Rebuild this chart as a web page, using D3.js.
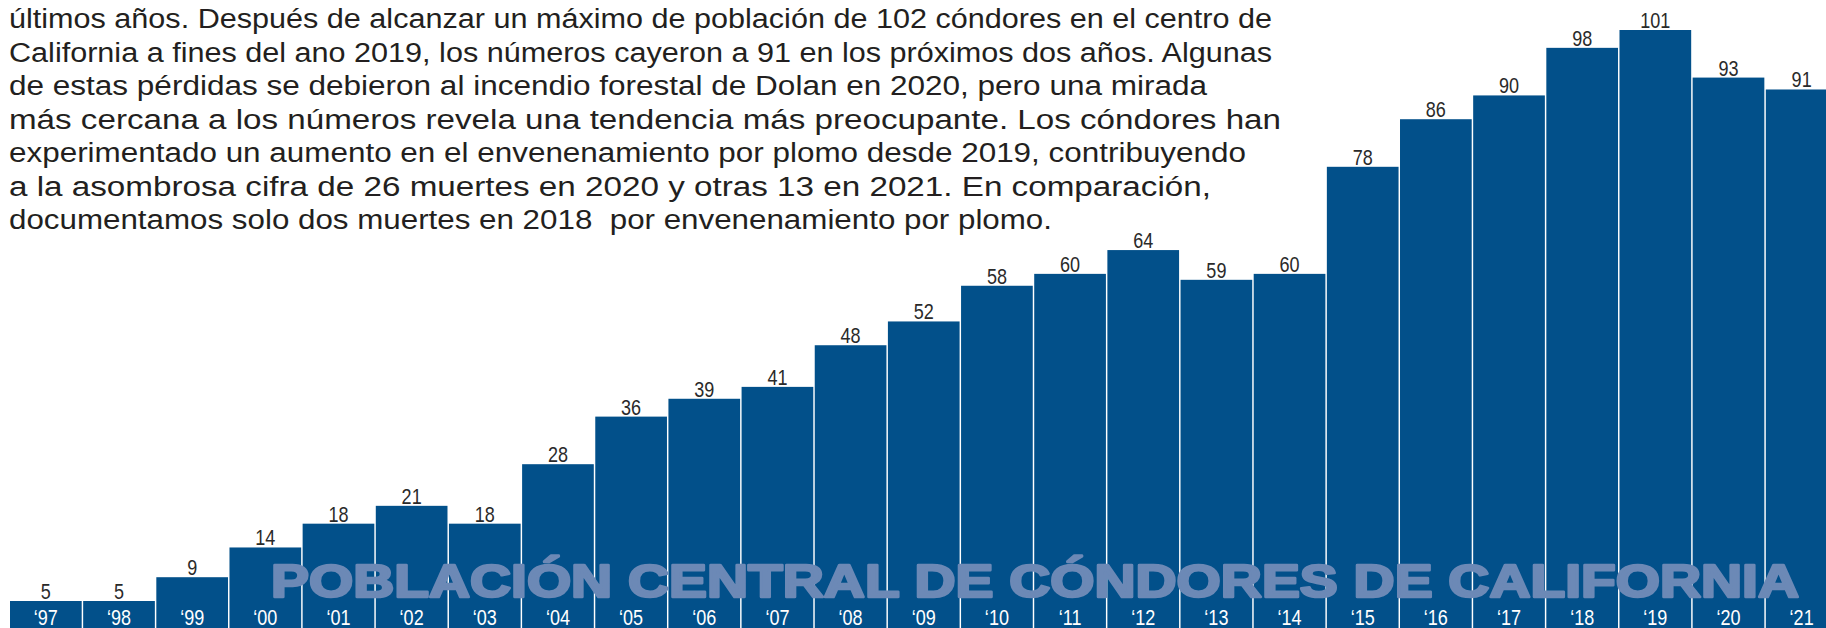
<!DOCTYPE html>
<html>
<head>
<meta charset="utf-8">
<script src="https://cdn.jsdelivr.net/npm/d3@7"></script>
<style>
  html, body { margin: 0; padding: 0; background: #fff; }
  svg { display: block; }
</style>
</head>
<body>
<svg id="chart"></svg>
<script>
const width = 1826, height = 628;

// data
const years = ["97","98","99","00","01","02","03","04","05","06","07","08","09",
               "10","11","12","13","14","15","16","17","18","19","20","21"];
const condors = [5,5,9,14,18,21,18,28,36,39,41,48,52,58,60,64,59,60,78,86,90,98,101,93,91];

const introLines = [
  "últimos años. Después de alcanzar un máximo de población de 102 cóndores en el centro de",
  "California a fines del ano 2019, los números cayeron a 91 en los próximos dos años. Algunas",
  "de estas pérdidas se debieron al incendio forestal de Dolan en 2020, pero una mirada",
  "más cercana a los números revela una tendencia más preocupante. Los cóndores han",
  "experimentado un aumento en el envenenamiento por plomo desde 2019, contribuyendo",
  "a la asombrosa cifra de 26 muertes en 2020 y otras 13 en 2021. En comparación,",
  "documentamos solo dos muertes en 2018  por envenenamiento por plomo."
];
const title = "POBLACIÓN CENTRAL DE CÓNDORES DE CALIFORNIA";

// layout: set width of each paragraph line (the original is tracked line by line)
const lineWidths = [1263, 1263, 1198, 1272, 1237, 1202, 1043];

const data = years.map((y, i) => ({ year: y, value: condors[i] }));

const svg = d3.select("#chart")
    .attr("width", width)
    .attr("height", height);

const x = d3.scaleBand()
    .domain(years)
    .range([10, 10 + 25 * 73.1])
    .paddingInner(0.02)
    .paddingOuter(0);

const y = d3.scaleLinear()
    .domain([5, 101])
    .range([601, 30]);

const sans = "'Liberation Sans', Arial, sans-serif";
const squeeze = 0.82; // condensed look for the numbers

// bars
svg.append("g")
  .selectAll("rect")
  .data(data)
  .join("rect")
    .attr("x", d => x(d.year))
    .attr("y", d => y(d.value))
    .attr("width", x.bandwidth())
    .attr("height", d => height + 10 - y(d.value))
    .attr("fill", "#02508a");

// value labels
svg.append("g")
  .selectAll("text")
  .data(data)
  .join("text")
    .attr("transform", d => `translate(${x(d.year) + x.bandwidth() / 2},${y(d.value) - 2}) scale(${squeeze},1)`)
    .attr("text-anchor", "middle")
    .style("font-family", sans)
    .style("font-size", "22px")
    .style("fill", "#2a2a2a")
    .text(d => d.value);

// year labels at the foot of the bars
svg.append("g")
  .selectAll("text")
  .data(data)
  .join("text")
    .attr("transform", d => `translate(${x(d.year) + x.bandwidth() / 2},625) scale(${squeeze},1)`)
    .attr("text-anchor", "middle")
    .style("font-family", sans)
    .style("font-size", "22px")
    .style("fill", "#fff")
    .text(d => "\u2018" + d.year);

// big title over the bars
svg.append("text")
    .attr("x", 271)
    .attr("y", 597)
    .attr("textLength", 1528)
    .attr("lengthAdjust", "spacingAndGlyphs")
    .style("font-family", sans)
    .style("font-weight", "bold")
    .style("font-size", "47px")
    .style("fill", "#6c89b6")
    .style("stroke", "#6c89b6")
    .style("stroke-width", 2.6)
    .style("stroke-linejoin", "round")
    .text(title);

// intro paragraph
svg.append("g")
  .selectAll("text")
  .data(introLines)
  .join("text")
    .attr("x", 9)
    .attr("y", (d, i) => 28 + i * 33.5)
    .attr("textLength", (d, i) => lineWidths[i])
    .attr("lengthAdjust", "spacingAndGlyphs")
    .style("font-family", sans)
    .style("font-size", "27px")
    .style("white-space", "pre")
    .style("fill", "#231f20")
    .text(d => d);
</script>
</body>
</html>
